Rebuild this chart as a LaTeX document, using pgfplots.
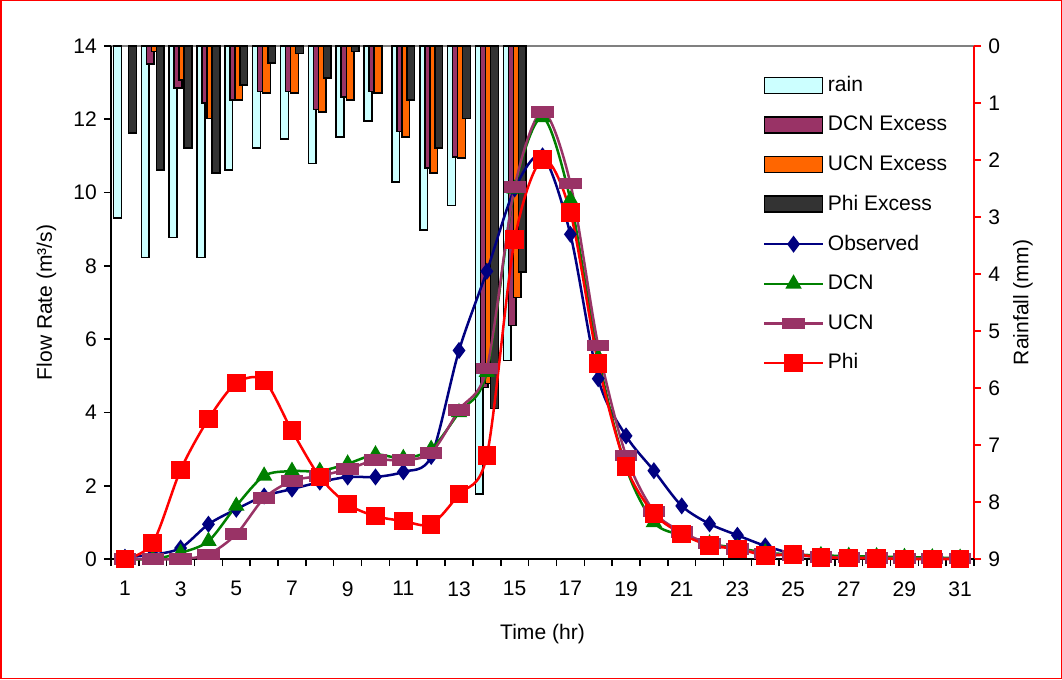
\documentclass[border=0pt]{standalone}
\usepackage{fontspec}
\setmainfont{Liberation Sans}
\usepackage{pgfplots}
\usepackage{pgfplotstable}
\pgfplotsset{compat=1.18}

\definecolor{obs}{HTML}{000080}
\definecolor{dcn}{HTML}{008000}
\definecolor{ucn}{HTML}{993366}
\definecolor{rainc}{HTML}{CCFFFF}
\definecolor{ucnx}{HTML}{FF6600}
\definecolor{phix}{HTML}{333333}

\pgfplotsset{
  base/.style={width=861pt, height=512pt, scale only axis,
    xmin=0.5, xmax=31.5,
    /pgf/number format/assume math mode=true,
    tick align=outside, major tick length=7pt,
    x axis line style={-}, y axis line style={-}},
  longline/.style={legend image code/.code={
    \draw[mark repeat=2,mark phase=2,##1] plot coordinates {(0pt,0pt)(29pt,0pt)(58pt,0pt)};}},
  longbar/.style={legend image code/.code={
    \draw[##1] (0pt,-8pt) rectangle (58pt,8pt);}},
  rainbar/.style={ybar, bar width=0.28, draw=black, line width=1.5pt},
}

% hourly flow (m3/s)
\pgfplotstableread{
x  obs   dcn   ucn   phi
1  0.05  0.00  0.00  0.00
2  0.12  0.00  0.00  0.44
3  0.30  0.17  0.00  2.43
4  0.95  0.49  0.13  3.82
5  1.36  1.45  0.68  4.80
6  1.72  2.27  1.66  4.87
7  1.91  2.40  2.13  3.50
8  2.10  2.40  2.27  2.24
9  2.24  2.60  2.45  1.50
10 2.24  2.85  2.70  1.17
11 2.38  2.75  2.70  1.04
12 2.80  3.00  2.90  0.95
13 5.69  4.00  4.07  1.77
14 7.85  5.10  5.20  2.82
15 10.10 10.10 10.15 8.72
16 11.00 12.05 12.20 10.90
17 8.86  9.80  10.25 9.46
18 4.92  5.50  5.82  5.33
19 3.36  2.50  2.82  2.52
20 2.41  1.00  1.30  1.24
21 1.45  0.65  0.74  0.69
22 0.96  0.42  0.42  0.37
23 0.65  0.30  0.27  0.28
24 0.36  0.18  0.15  0.10
25 0.15  0.12  0.10  0.13
26 0.08  0.10  0.06  0.05
27 0.05  0.08  0.04  0.03
28 0.03  0.07  0.03  0.02
29 0.02  0.05  0.02  0.00
30 0.01  0.04  0.01  0.00
31 0.01  0.03  0.01  0.00
}\flow

% hourly rainfall and excess (mm)
\pgfplotstableread{
x  rain dcnx ucnx phix
1  3.02 nan  nan  1.53
2  3.71 0.32 0.10 2.18
3  3.36 0.74 0.60 1.79
4  3.71 1.00 1.27 2.23
5  2.18 0.95 0.95 0.69
6  1.79 0.80 0.83 0.30
7  1.63 0.80 0.83 0.13
8  2.06 1.12 1.16 0.56
9  1.60 0.90 0.95 0.10
10 1.32 0.80 0.83 nan
11 2.39 1.50 1.60 0.95
12 3.23 2.14 2.23 1.79
13 2.80 1.95 1.97 1.27
14 7.86 5.99 5.92 6.36
15 5.52 4.90 4.41 3.97
}\rain

\begin{document}
\fontsize{21}{25}\selectfont
\begin{tikzpicture}
\begin{axis}[base,
  ymin=0, ymax=9, y dir=reverse,
  axis y line*=right, axis x line*=top,
  xtick=\empty, ytick={0,...,9},
  y axis line style={red, line width=1.5pt},
  ytick style={red, line width=1.5pt},
  x axis line style={gray, line width=1.5pt},
  ylabel={Rainfall (mm)}, ylabel style={yshift=1pt},
  unbounded coords=discard,
]
\addplot[rainbar, bar shift=-0.27, fill=rainc] table[x=x, y=rain] {\rain};
\addplot[rainbar, bar shift=-0.09, fill=ucn] table[x=x, y=dcnx] {\rain};
\addplot[rainbar, bar shift=0.09, fill=ucnx] table[x=x, y=ucnx] {\rain};
\addplot[rainbar, bar shift=0.27, fill=phix] table[x=x, y=phix] {\rain};
\end{axis}

\begin{axis}[base, name=main,
  ymin=0, ymax=14, clip=false,
  axis y line*=left, axis x line*=bottom,
  ytick={0,2,...,14}, xtick={1,3,...,31},
  minor xtick={0.5,1.5,...,31.5},
  major x tick style={draw=none},
  minor x tick style={black, line width=1.5pt},
  minor tick length=7pt,
  ytick style={black, line width=1.5pt},
  axis line style={line width=1.5pt},
  xticklabel style={yshift=-8pt},
  xlabel={Time (hr)}, xlabel style={yshift=-14pt},
  ylabel={Flow Rate (m³/s)}, ylabel style={yshift=3pt},
  legend cell align=left,
  legend style={draw=none, fill=none, at={(rel axis cs:0.752,0.949)}, anchor=north west,
    row sep=17.5pt, column sep=2pt, font=\fontsize{21}{25}\selectfont},
  legend entries={rain, DCN Excess, UCN Excess, Phi Excess, Observed, DCN, UCN, Phi},
  every axis plot/.append style={line width=2.5pt, smooth, tension=0.5},
]
\addlegendimage{longbar, fill=rainc, draw=black, line width=1.5pt}
\addlegendimage{longbar, fill=ucn, draw=black, line width=1.5pt}
\addlegendimage{longbar, fill=ucnx, draw=black, line width=1.5pt}
\addlegendimage{longbar, fill=phix, draw=black, line width=1.5pt}
\addplot[longline, obs, mark=diamond*, mark size=6.5pt] table[x=x, y=obs] {\flow};
\addplot[longline, dcn, mark=triangle*, mark size=7pt] table[x=x, y=dcn] {\flow};
\addplot[longline, ucn, mark=square*, mark size=4.5pt, mark options={xscale=2.2}] table[x=x, y=ucn] {\flow};
\addplot[longline, red, mark=square*, mark size=8pt] table[x=x, y=phi] {\flow};
\end{axis}
\draw[red, line width=1.5pt] ([shift={(-110pt,-119pt)}]main.south west) rectangle ([shift={(948pt,557pt)}]main.south west);
\end{tikzpicture}
\end{document}
